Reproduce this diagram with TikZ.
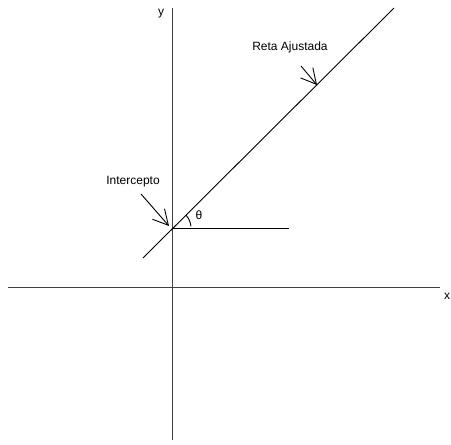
\documentclass[tikz,border=0pt]{standalone}
\usepackage{fontspec}
\setmainfont{Liberation Sans}
\usetikzlibrary{arrows.meta}
\begin{document}
\begin{tikzpicture}[x=1pt,y=-1pt,
  axis/.style={draw=black!75,line width=1pt},
  fit/.style={draw=black,line width=0.9pt},
  pointer/.style={draw=black,line width=0.9pt,-{Straight Barb[length=15pt,width=16pt]}},
  lbl/.style={font=\fontsize{12}{14}\selectfont,inner sep=0pt}]
\useasboundingbox (0,0) rectangle (451,445);
% axes
\coordinate (ytop) at (172,8);
\coordinate (ybot) at (172,440);
\coordinate (xl) at (8,287);
\coordinate (xr) at (440,287);
\draw[axis] (ytop) -- (ybot);
\draw[axis] (xl) -- (xr);
\node[lbl] (ylab) at (161,14) {y};
\node[lbl] (xlab) at (447,296) {x};
% fitted line
\coordinate (o) at (172,228);
\coordinate (fa) at (143,258);
\coordinate (fb) at (394,8);
\coordinate (hr) at (289,228);
\draw[fit] (fa) -- (fb);
\draw[fit] (o) -- (hr);
% angle
\draw[line width=0.9pt] ([shift={(-5:19)}]o) arc[start angle=-5,end angle=-42,radius=19];
\node[lbl] (theta) at (199,215) {θ};
% labels and pointers
\node[lbl] (reta) at (290,47) {Reta Ajustada};
\coordinate (rt) at (301,66);
\coordinate (rh) at (317,85);
\draw[pointer] (rt) -- (rh);
\node[lbl] (interc) at (133,182) {Intercepto};
\coordinate (it) at (141,194);
\coordinate (ih) at (169,226);
\draw[pointer] (it) -- (ih);
\end{tikzpicture}
\end{document}
